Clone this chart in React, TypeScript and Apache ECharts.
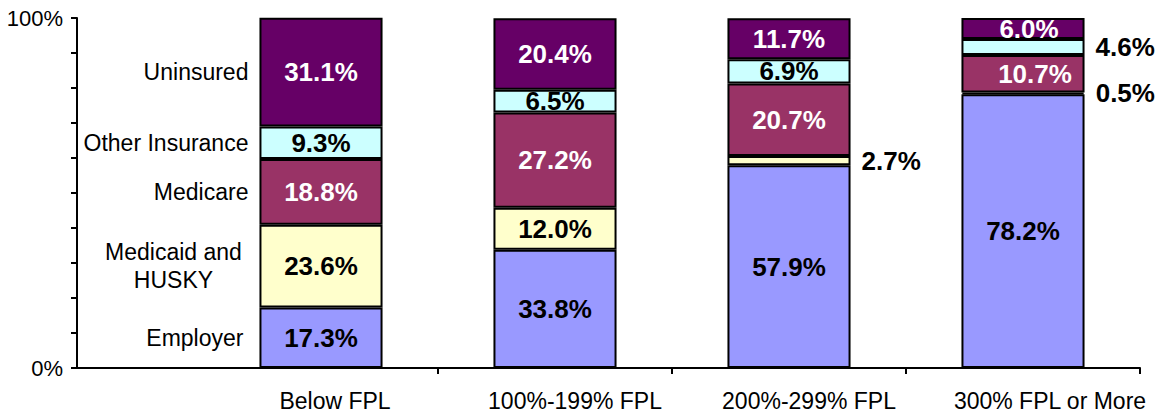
import React, { useEffect, useRef } from "react";
import * as echarts from "echarts";

const categories = ["Below FPL", "100%-199% FPL", "200%-299% FPL", "300% FPL or More"];
const seriesNames = ["Employer", "Medicaid and HUSKY", "Medicare", "Other Insurance", "Uninsured"];
const employer = [17.3, 33.8, 57.9, 78.2];
const medicaid = [23.6, 12.0, 2.7, 0.5];
const medicare = [18.8, 27.2, 20.7, 10.7];
const otherIns = [9.3, 6.5, 6.9, 4.6];
const uninsured = [31.1, 20.4, 11.7, 6.0];
const yTickLabels = [0, 100];

const colors = ["#9999FF", "#FFFFCC", "#993366", "#CCFFFF", "#660066"];
const labelColors = ["#000", "#000", "#fff", "#000", "#fff"];
const FONT = "'Liberation Sans', Arial, Helvetica, sans-serif";

const GRID_LEFT = 204;
const GRID_RIGHT = 20;
const GRID_TOP = 18;
const GRID_BOTTOM = 45;
const AXIS_X = 77;
const BAR_W = "52.6%";

export default function App() {
  const ref = useRef<HTMLDivElement>(null);
  useEffect(() => {
    if (!ref.current) return;
    const chart = echarts.init(ref.current, null, { renderer: "svg" });
    const allData = [employer, medicaid, medicare, otherIns, uninsured];
    const labelPadLeft = [28, 40, 40, 54];

    const valueSeries = allData.map((arr, si) => ({
      type: "bar",
      name: seriesNames[si],
      stack: "total",
      barWidth: BAR_W,
      barGap: "-100%",
      itemStyle: { color: colors[si], borderColor: "#000", borderWidth: 2 },
      label: {
        show: true,
        position: "inside",
        color: labelColors[si],
        fontFamily: FONT,
        fontWeight: "bold",
        fontSize: 26,
        formatter: (p: any) => Number(p.value).toFixed(1) + "%",
      },
      data: arr.map((v, i) =>
        v < 5
          ? { value: v, label: { position: "right", distance: 11, color: "#000" } }
          : i === 3 && si >= 2
          ? { value: v, label: { offset: [si === 2 ? 12 : 6, 0] } }
          : { value: v }
      ),
    }));

    const nameSeries = allData.map((arr, si) => ({
      type: "bar",
      name: seriesNames[si] + " label",
      stack: "names",
      barWidth: BAR_W,
      barGap: "-100%",
      silent: true,
      z: 1,
      itemStyle: { color: "rgba(0,0,0,0)", borderWidth: 0 },
      label: {
        show: true,
        position: "left",
        distance: si === 0 ? 16 : 11,
        color: "#000",
        fontFamily: FONT,
        fontSize: 23,
        formatter: si === 1 ? "{c|Medicaid and}\n{c|HUSKY}" : seriesNames[si],
        rich: { c: { width: 150, align: "center", fontSize: 23, lineHeight: 28, fontFamily: FONT, color: "#000" } },
      },
      data: arr.map((v, i) => (i === 0 ? v : "-")),
    }));

    chart.setOption({
      animation: false,
      backgroundColor: "#fff",
      grid: { left: GRID_LEFT, right: GRID_RIGHT, top: GRID_TOP, bottom: GRID_BOTTOM, containLabel: false },
      xAxis: {
        type: "category",
        data: categories.map((c, i) => ({ value: c, textStyle: { padding: [0, 0, 0, labelPadLeft[i]] } })),
        axisLine: { lineStyle: { color: "#000", width: 2 } },
        axisTick: { show: true, length: 6, lineStyle: { color: "#000", width: 2 }, interval: (i: number) => i !== 0 },
        axisLabel: {
          color: "#000",
          fontFamily: FONT,
          fontSize: 23,
          margin: 21,
          interval: 0,
        },
      },
      yAxis: {
        type: "value",
        min: 0,
        max: 100,
        interval: 10,
        offset: GRID_LEFT - AXIS_X,
        splitLine: { show: false },
        axisLine: { show: true, lineStyle: { color: "#000", width: 2 } },
        axisTick: { show: true, length: 6, lineStyle: { color: "#000", width: 2 } },
        axisLabel: {
          color: "#000",
          fontFamily: FONT,
          fontSize: 22,
          margin: 14,
          formatter: (v: number) => (yTickLabels.includes(v) ? v + "%" : ""),
        },
      },
      graphic: [
        {
          type: "line",
          shape: { x1: AXIS_X, y1: 413 - GRID_BOTTOM, x2: GRID_LEFT, y2: 413 - GRID_BOTTOM },
          style: { stroke: "#000", lineWidth: 2 },
        },
      ],
      series: [...valueSeries, ...nameSeries],
    });
    return () => chart.dispose();
  }, []);
  return (
    <div
      ref={ref}
      style={{ position: "fixed", left: 0, top: 0, width: 1160, height: 413, background: "#fff" }}
    />
  );
}
